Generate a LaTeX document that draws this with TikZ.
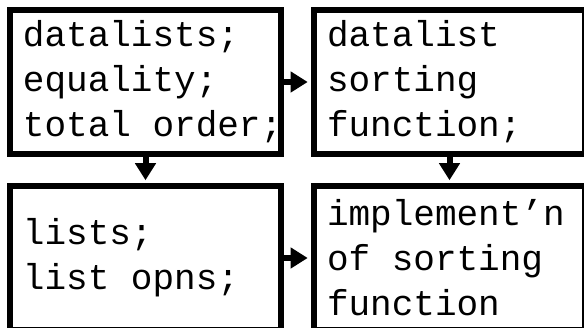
\documentclass[tikz,border=0pt]{standalone}
\usepackage{fontspec}
\setmonofont{Liberation Mono}
\usetikzlibrary{arrows.meta}
\hyphenpenalty=10000
\newcommand\boxfontsel{\ttfamily\fontsize{36}{45}\selectfont\spaceskip=0.6em\relax}
\begin{document}
\begin{tikzpicture}[x=1pt,y=1pt,
  box/.style={draw, line width=6pt, minimum width=271.6pt, minimum height=143.5pt,
    inner xsep=13.3pt, inner ysep=0pt, text width=245pt, align=flush left,
    font=\boxfontsel},
  link/.style={line width=6pt, -{Triangle[length=17pt,width=20pt]}, shorten >=3pt}]
\useasboundingbox (0,0) rectangle (584,-328);
\fill[white] (0,0) rectangle (584,-328);
\clip (0,0) rectangle (584,-328);
\node[box] (dl) at (145.5,-82) {datalists;\\equality;\\\mbox{total order;}};
\node[box] (sf) at (449.5,-82) {datalist\\sorting\\function;};
\node[box] (lo) at (145.5,-258) {lists;\\\mbox{list opns;}};
\node[box] (im) at (449.5,-258) {implement’n\\\mbox{of sorting}\\function};
\draw[link] (dl) -- (sf);
\draw[link] (dl) -- (lo);
\draw[link] (sf) -- (im);
\draw[link] (lo) -- (im);
\end{tikzpicture}
\end{document}
